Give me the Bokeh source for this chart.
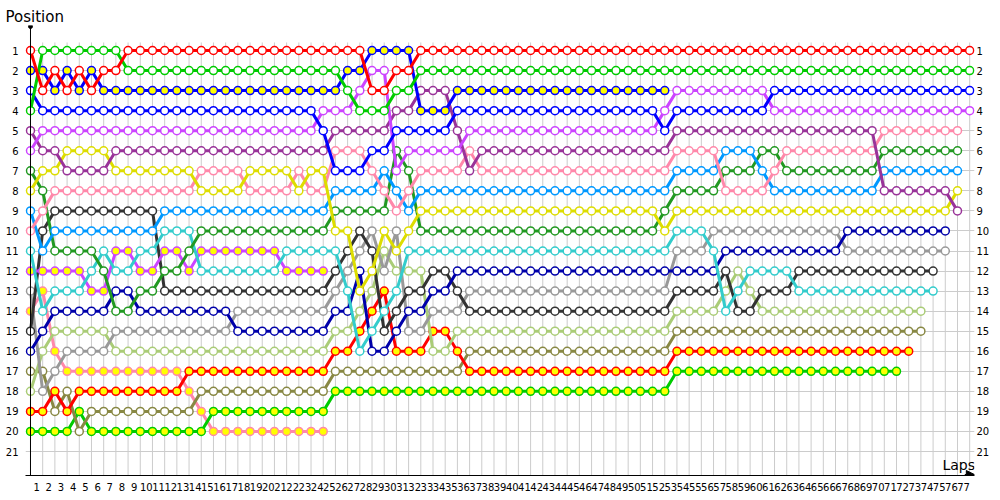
from bokeh.plotting import figure
from bokeh.models import (Range1d, FixedTicker, CustomJSTickFormatter, LinearAxis,
                          Label, Span, Arrow, NormalHead)
from bokeh.embed import file_html
from bokeh.resources import INLINE

laps = list(range(0, 78))
lap_tick_labels = list(range(1, 78))
position_rows = list(range(1, 22))

pos_red = [1,3,2,3,2,3,2,2,1,1,
           1,1,1,1,1,1,1,1,1,1,
           1,1,1,1,1,1,1,1,3,3,
           2,2,1,1,1,1,1,1,1,1,
           1,1,1,1,1,1,1,1,1,1,
           1,1,1,1,1,1,1,1,1,1,
           1,1,1,1,1,1,1,1,1,1,
           1,1,1,1,1,1,1,1]
pos_green = [4,1,1,1,1,1,1,1,2,2,
             2,2,2,2,2,2,2,2,2,2,
             2,2,2,2,2,2,3,4,4,4,
             3,3,2,2,2,2,2,2,2,2,
             2,2,2,2,2,2,2,2,2,2,
             2,2,2,2,2,2,2,2,2,2,
             2,2,2,2,2,2,2,2,2,2,
             2,2,2,2,2,2,2,2]
pos_blue_y = [2,2,3,2,3,2,3,3,3,3,
              3,3,3,3,3,3,3,3,3,3,
              3,3,3,3,3,3,2,2,1,1,
              1,1,4,4,4,3,3,3,3,3,
              3,3,3,3,3,3,3,3,3,3,
              3,3,3]
pos_blue = [3,4,4,4,4,4,4,4,4,4,
            4,4,4,4,4,4,4,4,4,4,
            4,4,4,4,5,7,7,7,6,6,
            5,5,5,5,5,4,4,4,4,4,
            4,4,4,4,4,4,4,4,4,4,
            4,4,5,4,4,4,4,4,4,4,
            4,3,3,3,3,3,3,3,3,3,
            3,3,3,3,3,3,3,3]
pos_violet = [6,5,5,5,5,5,5,5,5,5,
              5,5,5,5,5,5,5,5,5,5,
              5,5,5,5,4,4,4,3,2,2,
              7,6,6,6,6,6,5,5,5,5,
              5,5,5,5,5,5,5,5,5,5,
              5,5,4,3,3,3,3,3,3,3,
              3,4,4,4,4,4,4,4,4,4,
              4,4,4,4,4,4,4,4]
pos_purple = [5,6,6,7,7,7,7,6,6,6,
              6,6,6,6,6,6,6,6,6,6,
              6,6,6,6,6,5,5,5,5,5,
              4,4,3,3,3,5,7,6,6,6,
              6,6,6,6,6,6,6,6,6,6,
              6,6,6,5,5,5,5,5,5,5,
              5,5,5,5,5,5,5,5,5,5,
              8,8,8,8,8,8,9]
pos_yellow = [8,7,7,6,6,6,6,7,7,7,
              7,7,7,7,8,8,8,8,7,7,
              7,7,8,7,7,10,10,13,12,10,
              11,10,9,9,9,9,9,9,9,9,
              9,9,9,9,9,9,9,9,9,9,
              9,9,10,9,9,9,9,9,9,9,
              9,9,9,9,9,9,9,9,9,9,
              9,9,9,9,9,9,8]
pos_pink = [10,9,8,8,8,8,8,8,8,8,
            8,8,8,8,7,7,7,7,8,8,
            8,8,7,8,8,6,6,6,7,8,
            9,8,7,7,7,7,6,7,7,7,
            7,7,7,7,7,7,7,7,7,7,
            7,7,7,6,6,6,6,8,8,8,
            8,7,6,6,6,6,6,6,6,6,
            5,5,5,5,5,5,5]
pos_lblue = [9,11,10,10,10,10,10,10,10,10,
             10,9,9,9,9,9,9,9,9,9,
             9,9,9,9,9,8,8,8,8,7,
             8,9,8,8,8,8,8,8,8,8,
             8,8,8,8,8,8,8,8,8,8,
             8,8,8,7,7,7,7,6,6,6,
             7,8,8,8,8,8,8,8,8,8,
             7,7,7,7,7,7,7]
pos_dgreen = [7,8,11,11,11,11,12,14,14,13,
              13,12,12,11,10,10,10,10,10,10,
              10,10,10,10,10,9,9,9,9,9,
              6,7,10,10,10,10,10,10,10,10,
              10,10,10,10,10,10,10,10,10,10,
              10,10,9,8,8,8,8,7,7,7,
              6,6,7,7,7,7,7,7,7,7,
              6,6,6,6,6,6,6]
pos_cyan = [11,14,13,13,13,12,11,12,12,11,
            11,10,10,10,12,12,12,12,12,12,
            12,11,11,11,11,11,13,16,15,14,
            13,11,11,11,11,11,11,11,11,11,
            11,11,11,11,11,11,11,11,11,11,
            11,11,11,10,10,10,11,14,13,12,
            12,12,12,13,13,13,13,13,13,13,
            13,13,13,13,13]
pos_violet_y = [12,12,12,12,12,13,13,11,11,12,
                12,11,11,12,11,11,11,11,11,11,
                11,12,12,12,12]
pos_navy = [16,15,14,14,14,14,14,13,13,14,
            14,14,14,14,14,14,14,15,15,15,
            15,15,15,15,15,14,14,12,16,16,
            15,14,14,13,13,12,12,12,12,12,
            12,12,12,12,12,12,12,12,12,12,
            12,12,12,12,12,12,12,11,11,11,
            11,11,11,11,11,11,11,10,10,10,
            10,10,10,10,10,10]
pos_dgray = [15,10,9,9,9,9,9,9,9,9,
             9,13,13,13,13,13,13,13,13,13,
             13,13,13,13,13,12,11,10,11,15,
             14,13,13,12,12,13,14,14,14,14,
             14,14,14,14,14,14,14,14,14,14,
             14,14,14,13,13,13,13,12,14,14,
             13,13,13,12,12,12,12,12,12,12,
             12,12,12,12,12]
pos_gray = [13,18,17,16,16,16,16,15,15,15,
            15,15,15,15,15,15,15,14,14,14,
            14,14,14,14,14,13,12,11,10,12,
            10,15,15,14,14,14,13,13,13,13,
            13,13,13,13,13,13,13,13,13,13,
            13,13,13,11,11,11,10,10,10,10,
            10,10,10,10,10,10,10,11,11,11,
            11,11,11,11,11,11]
pos_lolive = [18,16,15,15,15,15,15,16,16,16,
              16,16,16,16,16,16,16,16,16,16,
              16,16,16,16,16,15,15,14,13,11,
              12,12,12,16,16,15,15,15,15,15,
              15,15,15,15,15,15,15,15,15,15,
              15,15,15,14,14,14,14,13,12,13,
              14,14,14,14,14,14,14,14,14,14,
              14,14,14,14]
pos_red_y = [19,19,18,19,18,18,18,18,18,18,
             18,18,18,17,17,17,17,17,17,17,
             17,17,17,17,17,16,16,15,14,13,
             16,16,16,15,15,16,17,17,17,17,
             17,17,17,17,17,17,17,17,17,17,
             17,17,17,16,16,16,16,16,16,16,
             16,16,16,16,16,16,16,16,16,16,
             16,16,16]
pos_olive = [17,17,19,18,20,19,19,19,19,19,
             19,19,19,19,18,18,18,18,18,18,
             18,18,18,18,18,17,17,17,17,17,
             17,17,17,17,17,17,16,16,16,16,
             16,16,16,16,16,16,16,16,16,16,
             16,16,16,15,15,15,15,15,15,15,
             15,15,15,15,15,15,15,15,15,15,
             15,15,15,15]
pos_green_y = [20,20,20,20,19,20,20,20,20,20,
               20,20,20,20,20,19,19,19,19,19,
               19,19,19,19,19,18,18,18,18,18,
               18,18,18,18,18,18,18,18,18,18,
               18,18,18,18,18,18,18,18,18,18,
               18,18,18,17,17,17,17,17,17,17,
               17,17,17,17,17,17,17,17,17,17,
               17,17]
pos_pink_y = [14,13,16,17,17,17,17,17,17,17,
              17,17,17,18,19,20,20,20,20,20,
              20,20,20,20,20]

YEL = "#ffff00"
WHT = "#ffffff"
drivers = [
    (pos_pink_y, "#ff88aa", YEL),
    (pos_green_y, "#00cc00", YEL),
    (pos_olive, "#888844", WHT),
    (pos_red_y, "#ff0000", YEL),
    (pos_lolive, "#aacc77", WHT),
    (pos_gray, "#999999", WHT),
    (pos_dgray, "#333333", WHT),
    (pos_navy, "#0000aa", WHT),
    (pos_violet_y, "#cc44ff", YEL),
    (pos_cyan, "#33cccc", WHT),
    (pos_dgreen, "#229922", WHT),
    (pos_lblue, "#0099ff", WHT),
    (pos_pink, "#ff88aa", WHT),
    (pos_yellow, "#dddd00", WHT),
    (pos_purple, "#993399", WHT),
    (pos_violet, "#cc44ff", WHT),
    (pos_blue, "#0000ff", WHT),
    (pos_blue_y, "#0000ff", YEL),
    (pos_green, "#00cc00", WHT),
    (pos_red, "#ff0000", WHT),
]

Y_TOP, Y_BOT = -0.2469, 22.197
p = figure(width=992, height=496, output_backend="svg", toolbar_location=None,
           x_range=Range1d(-0.4095, 77.395), y_range=Range1d(Y_BOT, Y_TOP),
           min_border_left=25, min_border_right=17, min_border_top=25, min_border_bottom=21)
p.outline_line_color = None

p.title.text = "Position"
p.title.text_font = "DejaVu Sans"
p.title.text_font_size = "15px"
p.title.text_font_style = "normal"
p.title.text_color = "#000000"
p.title.align = "left"
p.title.offset = -20
p.title.standoff = 0

# grid
p.xgrid.visible = False
p.ygrid.ticker = FixedTicker(ticks=position_rows)
p.ygrid.grid_line_color = "#cccccc"
p.segment(x0=laps, y0=[0.6] * len(laps), x1=laps, y1=[Y_BOT] * len(laps),
          line_color="#cccccc", line_width=1)

# x axis
xa = p.xaxis[0]
xa.ticker = FixedTicker(ticks=[k - 0.5 for k in lap_tick_labels])
xa.formatter = CustomJSTickFormatter(code="return String(Math.round(tick + 0.5));")
xa.major_tick_line_color = None
xa.minor_tick_line_color = None
xa.major_tick_out = 0
xa.major_tick_in = 0
xa.minor_tick_out = 0
xa.minor_tick_in = 0
xa.axis_line_color = "black"
xa.major_label_text_font = "DejaVu Sans"
xa.major_label_text_font_size = "10px"
xa.major_label_text_color = "#000000"
xa.major_label_standoff = 7

# y axes
ya = p.yaxis[0]
ya.ticker = FixedTicker(ticks=position_rows)
ya.axis_line_color = None
ya.major_tick_line_color = None
ya.minor_tick_line_color = None
ya.major_tick_out = 0
ya.major_tick_in = 0
ya.minor_tick_out = 0
ya.minor_tick_in = 0
ya.major_label_text_font = "DejaVu Sans"
ya.major_label_text_font_size = "10px"
ya.major_label_text_color = "#000000"
ya.major_label_standoff = 7

yr = LinearAxis(ticker=FixedTicker(ticks=position_rows), axis_line_color=None,
                major_tick_line_color=None, minor_tick_line_color=None,
                major_tick_out=0, major_tick_in=0, minor_tick_out=0, minor_tick_in=0,
                major_label_text_font="DejaVu Sans", major_label_text_font_size="10px",
                major_label_text_color="#000000", major_label_standoff=2)
p.add_layout(yr, "right")

p.add_layout(Span(location=0, dimension="height", line_color="black", line_width=1))
p.scatter(x=[0], y=[-0.2], size=4, color="black")
p.add_layout(Arrow(end=NormalHead(size=8, fill_color="black", line_color="black"),
                   x_start=76.6, y_start=Y_BOT - 0.05, x_end=77.38, y_end=Y_BOT - 0.05,
                   line_color="black", line_width=1))

p.add_layout(Label(x=74.77, y=21.65, text="Laps", text_font="DejaVu Sans",
                   text_font_size="14px", text_baseline="middle", text_align="left",
                   text_color="#000000"))

for pos, col, fill in drivers:
    xs = laps[:len(pos)]
    p.line(xs, pos, line_color=col, line_width=3)
    p.scatter(xs, pos, marker="circle", size=8, fill_color=fill, line_color=col,
              line_width=1.5)

open("out.html", "w").write(file_html(p, INLINE))
